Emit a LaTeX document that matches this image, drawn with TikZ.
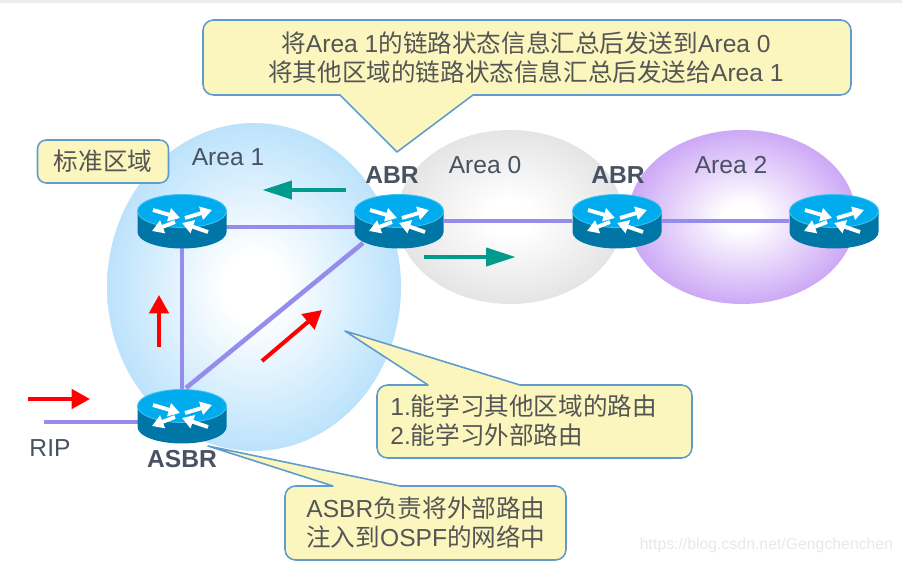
\documentclass[tikz,border=0pt]{standalone}
\usepackage{fontspec}
\setmainfont{Liberation Sans}
\newfontfamily\cjk{Noto Sans CJK SC}
\newcommand{\zh}[1]{{\cjk #1}}
\usepackage{xcolor}
\usetikzlibrary{arrows.meta,calc}

\definecolor{areablue}{RGB}{181,224,251}
\definecolor{areagray}{RGB}{226,226,226}
\definecolor{areaviolet}{RGB}{200,160,245}
\definecolor{linkviolet}{RGB}{150,140,238}
\definecolor{notefill}{RGB}{250,246,190}
\definecolor{noteline}{RGB}{95,155,205}
\definecolor{notetext}{RGB}{85,85,85}
\definecolor{labeltext}{RGB}{72,82,98}
\definecolor{flowteal}{RGB}{0,155,140}
\definecolor{routertop}{RGB}{0,172,238}
\definecolor{routerside}{RGB}{0,118,166}

\pgfdeclareradialshading{areaoneshade}{\pgfpointorigin}{color(0bp)=(white); color(5bp)=(white); color(27bp)=(areablue); color(50bp)=(areablue)}
\pgfdeclareradialshading{areazeroshade}{\pgfpointorigin}{color(0bp)=(white); color(5bp)=(white); color(27bp)=(areagray); color(50bp)=(areagray)}
\pgfdeclareradialshading{areatwoshade}{\pgfpointorigin}{color(0bp)=(white); color(4bp)=(white); color(27bp)=(areaviolet); color(50bp)=(areaviolet)}

\tikzset{
  routerbox/.style={minimum width=1.8cm, minimum height=1.08cm, inner sep=0pt},
  routerpic/.pic={
    \fill[routerside] (-44.5,-10) -- (-44.5,11) arc[start angle=180, end angle=0, x radius=44.5, y radius=16.5] -- (44.5,-10) -- cycle;
    \draw[fill=routertop, draw=routertop!75!white, line width=0.5pt] (0,-10) ellipse [x radius=44.5, y radius=16.5];
    \draw[routerglyph] (-29,-11) -- (-2,-3);
    \draw[routerglyph] (3,-3) -- (30,-11);
    \draw[routerglyph] (-7,1) -- (-30,10);
    \draw[routerglyph] (26,11) -- (0,2);
  },
  routerglyph/.style={white, line width=2.2pt, -{Triangle[length=6.5pt, width=7.5pt]}},
  linkline/.style={linkviolet, line width=2.6pt},
  redarrow/.style={red, line width=2.3pt, -{Triangle[length=10.5pt, width=11pt]}},
  tealarrow/.style={flowteal, line width=2.8pt, -{Triangle[length=17pt, width=10pt]}},
  noteshape/.style={fill=notefill, draw=noteline, line width=0.9pt, line join=round},
  notetxt/.style={text=notetext, inner sep=0pt, font=\fontsize{14}{16.5}\selectfont},
  arealabel/.style={text=labeltext, inner sep=0pt, font=\fontsize{14}{16.5}\selectfont},
  routerlabel/.style={text=labeltext, inner sep=0pt, font=\fontsize{14}{16.5}\selectfont\bfseries},
}

\begin{document}
\begin{tikzpicture}[x=0.02cm, y=-0.02cm]
  \useasboundingbox (0,0) rectangle (902,563);
  % strip along the top edge
  \fill[black!7] (0,0) rectangle (902,3);
  % areas
  \path[shading=areazeroshade] (510,217) ellipse [x radius=113, y radius=87];
  \path[shading=areatwoshade] (742,217) ellipse [x radius=114, y radius=87];
  \path[shading=areaoneshade] (254,287) ellipse [x radius=147, y radius=164];
  \node[arealabel] (areaone) at (228,157) {Area 1};
  \node[arealabel] (areazero) at (485,165) {Area 0};
  \node[arealabel] (areatwo) at (731,165) {Area 2};
  % routers, links go in between the boxes and the pictures
  \foreach \rname/\rx/\ry in {rone/182/221, abrone/399/221, abrtwo/617/221, rtwo/834/221, asbr/182/416}
    \node[routerbox] (\rname) at (\rx,\ry) {};
  \coordinate (ripend) at (44,422);
  \draw[linkline] ($(rone)+(0,6)$) -- ($(abrone)+(0,6)$);
  \draw[linkline] (rone) -- (asbr);
  \draw[linkline] ($(abrone)+(-36,22)$) -- ($(asbr)+(4,-28)$);
  \draw[linkline] (abrone) -- (abrtwo);
  \draw[linkline] (abrtwo) -- (rtwo);
  \draw[linkline] (ripend) -- ($(asbr)+(0,6)$);
  \foreach \rname in {rone, abrone, abrtwo, rtwo, asbr}
    \pic at (\rname) {routerpic};
  \node[routerlabel] (abronelbl) at (392,175) {ABR};
  \node[routerlabel] (abrtwolbl) at (618,175) {ABR};
  \node[routerlabel] (asbrlbl) at (182,459) {ASBR};
  \node[arealabel] (riplbl) at (50,448) {RIP};
  % flow arrows
  \coordinate (redupa) at (159,347);
  \coordinate (redupb) at (159,295);
  \coordinate (reddiaga) at (262,361);
  \coordinate (reddiagb) at (322,310);
  \coordinate (redripa) at (28,399);
  \coordinate (redripb) at (90,399);
  \coordinate (tealleftaa) at (346,190);
  \coordinate (tealleftb) at (262,190);
  \coordinate (tealrighta) at (424,257);
  \coordinate (tealrightb) at (516,257);
  \draw[redarrow] (redupa) -- (redupb);
  \draw[redarrow] (reddiaga) -- (reddiagb);
  \draw[redarrow] (redripa) -- (redripb);
  \draw[tealarrow] (tealleftaa) -- (tealleftb);
  \draw[tealarrow] (tealrighta) -- (tealrightb);
  % notes
  \node[noteshape, rounded corners=5pt, minimum width=2.62cm, minimum height=0.86cm, inner sep=0pt, notetxt] (stdnote) at (103,161.5) {\zh{标准区域}};
  \draw[noteshape] (340,95) [sharp corners] -- (397,152) -- (473,95) [rounded corners=6pt] -- (851,95) -- (851,20) -- (203,20) -- (203,95) [sharp corners] -- cycle;
  \node[notetxt, align=center] (abrnote) at (526,57.5) {\zh{将}Area 1\zh{的链路状态信息汇总后发送到}Area 0\\\zh{将其他区域的链路状态信息汇总后发送给}Area 1};
  \draw[noteshape] (428,385) [sharp corners] -- (345,331) -- (520,385) [rounded corners=6pt] -- (692,385) -- (692,458) -- (377,458) -- (377,385) [sharp corners] -- cycle;
  \node[notetxt, align=left, anchor=west] (learnnote) at (390,421) {1.\zh{能学习其他区域的路由}\\2.\zh{能学习外部路由}};
  \draw[noteshape] (333,486) [sharp corners] -- (208,446) -- (400,486) [rounded corners=6pt] -- (566,486) -- (566,560) -- (285,560) -- (285,486) [sharp corners] -- cycle;
  \node[notetxt, align=left, anchor=west] (asbrnote) at (306,522.5) {ASBR\zh{负责将外部路由}\\\zh{注入到}OSPF\zh{的网络中}};
  % address printed over the corner
  \node[text=black!9, inner sep=0pt, font=\fontsize{9}{11}\selectfont] (urlmark) at (766.5,545) {https://blog.csdn.net/Gengchenchen};
\end{tikzpicture}
\end{document}
